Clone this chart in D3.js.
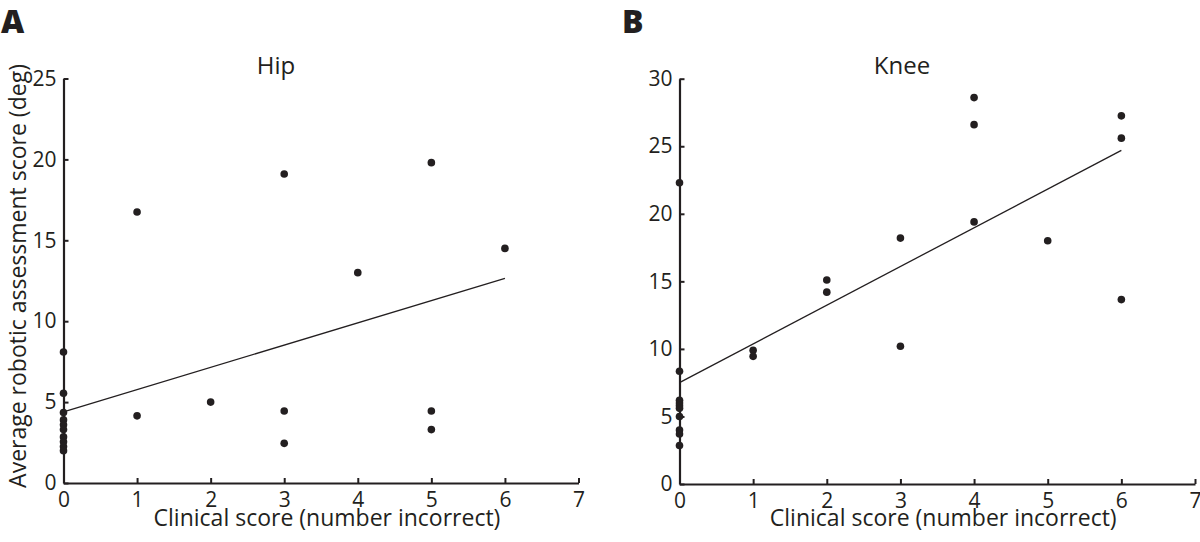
<!DOCTYPE html>
<html>
<head>
<meta charset="utf-8">
<script src="https://cdn.jsdelivr.net/npm/d3@7"></script>
<style>
  html, body { margin: 0; padding: 0; background: #fff; }
  svg { display: block; font-family: "Open Sans", "Noto Sans", sans-serif; }
</style>
</head>
<body>
<svg id="chart" width="1200" height="542"></svg>
<script>
// ---- Data ----
const xTicks = [0, 1, 2, 3, 4, 5, 6, 7];

const hipYTicks = [0, 5, 10, 15, 20, 25];
const hipClinical = [0, 0, 0, 0, 0, 0, 0, 0, 0, 0, 1, 1, 2, 3, 3, 3, 4, 5, 5, 5, 6];
const hipRobotic  = [8.1, 5.55, 4.35, 3.9, 3.6, 3.3, 2.85, 2.55, 2.25, 2.0,
                     16.75, 4.15, 5.0, 19.1, 4.45, 2.45, 13.0, 19.8, 4.45, 3.3, 14.5];
const hipFitX = [0, 6];
const hipFitY = [4.4, 12.65];

const kneeYTicks = [0, 5, 10, 15, 20, 25, 30];
const kneeClinical = [0, 0, 0, 0, 0, 0, 0, 0, 0, 0, 1, 1, 2, 2, 3, 3, 4, 4, 4, 5, 6, 6, 6];
const kneeRobotic  = [22.3, 8.35, 6.2, 6.0, 5.8, 5.6, 5.0, 4.0, 3.7, 2.85,
                      9.9, 9.45, 15.1, 14.2, 18.2, 10.2, 28.6, 26.6, 19.4, 18.0, 27.25, 25.6, 13.65];
const kneeFitX = [0, 6];
const kneeFitY = [7.5, 24.7];

const panels = [
  { letter: "A", title: "Hip", xs: hipClinical, ys: hipRobotic, fx: hipFitX, fy: hipFitY,
    yMax: 25, yTicks: hipYTicks, x0: 63.5, x1: 578.5, y0: 483, y1: 78.5,
    letterX: 1, titleX: 276, showYLabel: true },
  { letter: "B", title: "Knee", xs: kneeClinical, ys: kneeRobotic, fx: kneeFitX, fy: kneeFitY,
    yMax: 30, yTicks: kneeYTicks, x0: 679.5, x1: 1195, y0: 484, y1: 78.7,
    letterX: 622, titleX: 902, showYLabel: false }
];

const svg = d3.select("#chart");
const ink = "#231f20";

panels.forEach(p => {
  const x = d3.scaleLinear().domain([0, 7]).range([p.x0, p.x1]);
  const y = d3.scaleLinear().domain([0, p.yMax]).range([p.y0, p.y1]);
  const g = svg.append("g");

  // panel letter
  g.append("text").attr("x", p.letterX).attr("y", 33)
    .attr("font-size", 32).attr("font-weight", 800).attr("fill", ink).text(p.letter);

  // title
  g.append("text").attr("x", p.titleX).attr("y", 74).attr("text-anchor", "middle")
    .attr("font-size", 24).attr("fill", ink).text(p.title);

  // x axis
  const xa = g.append("g").attr("transform", `translate(0,${p.y0})`)
    .call(d3.axisBottom(x).tickValues(xTicks).tickFormat(d3.format("d"))
      .tickSizeInner(-5).tickSizeOuter(0).tickPadding(9));
  // y axis
  const ya = g.append("g").attr("transform", `translate(${p.x0},0)`)
    .call(d3.axisLeft(y).tickValues(p.yTicks).tickFormat(d3.format("d"))
      .tickSizeInner(-5).tickSizeOuter(0).tickPadding(7));

  [xa, ya].forEach(a => {
    a.select(".domain").attr("stroke", ink).attr("stroke-width", 2.2);
    a.selectAll(".tick line").attr("stroke", ink).attr("stroke-width", 2);
    a.selectAll(".tick text").attr("font-size", 21).attr("fill", ink)
      .attr("font-family", "'Open Sans', sans-serif");
  });
  xa.selectAll(".tick text").attr("dy", "0.71em");

  // axis labels
  g.append("text").attr("x", (p.x0 + p.x1) / 2 + 6).attr("y", 526).attr("text-anchor", "middle")
    .attr("font-size", 23).attr("fill", ink).text("Clinical score (number incorrect)");

  if (p.showYLabel) {
    g.append("text").attr("transform", `translate(26,${276}) rotate(-90)`)
      .attr("text-anchor", "middle").attr("font-size", 23).attr("fill", ink)
      .text("Average robotic assessment score (deg)");
  }

  // regression line
  g.append("line")
    .attr("x1", x(p.fx[0])).attr("y1", y(p.fy[0]))
    .attr("x2", x(p.fx[1])).attr("y2", y(p.fy[1]))
    .attr("stroke", ink).attr("stroke-width", 1.3);

  // points
  g.selectAll("circle").data(p.xs.map((v, i) => [v, p.ys[i]])).enter().append("circle")
    .attr("cx", d => x(d[0])).attr("cy", d => y(d[1])).attr("r", 3.8).attr("fill", ink);
});
</script>
</body>
</html>
